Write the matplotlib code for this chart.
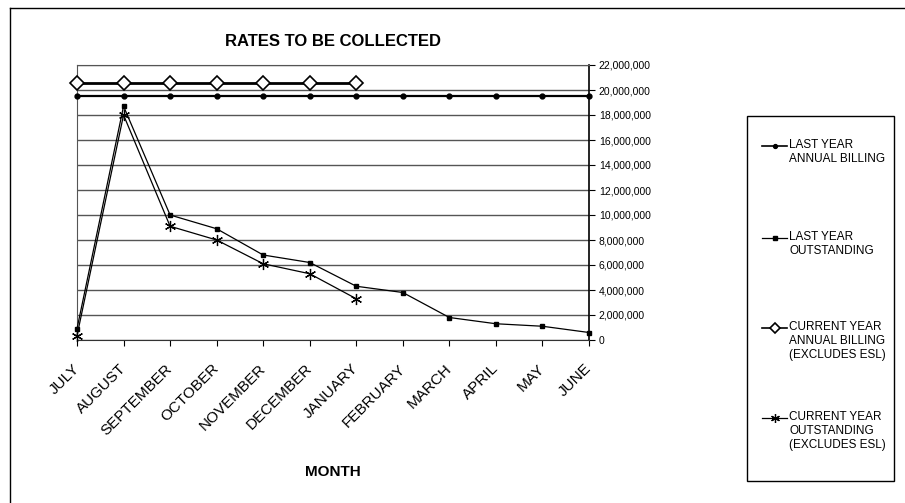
import numpy as np
import matplotlib.pyplot as plt
from matplotlib.lines import Line2D
from matplotlib.patches import Rectangle
from matplotlib.ticker import FuncFormatter

plt.rcParams['font.family'] = ['Liberation Sans', 'DejaVu Sans']

months = ['JULY', 'AUGUST', 'SEPTEMBER', 'OCTOBER', 'NOVEMBER', 'DECEMBER',
          'JANUARY', 'FEBRUARY', 'MARCH', 'APRIL', 'MAY', 'JUNE']

# values (dollars)
last_year_billing = [19.55e6] * 12
last_year_outstanding = [0.9e6, 18.7e6, 10.0e6, 8.9e6, 6.8e6, 6.2e6,
                         4.3e6, 3.8e6, 1.8e6, 1.3e6, 1.1e6, 0.6e6]
current_year_billing = [20.6e6] * 7
current_year_outstanding = [0.35e6, 18.0e6, 9.1e6, 8.0e6, 6.1e6, 5.3e6, 3.3e6]

legend_labels = ['LAST YEAR\nANNUAL BILLING',
                 'LAST YEAR\nOUTSTANDING',
                 'CURRENT YEAR\nANNUAL BILLING\n(EXCLUDES ESL)',
                 'CURRENT YEAR\nOUTSTANDING\n(EXCLUDES ESL)']

W, H = 905, 503
fig = plt.figure(figsize=(W / 100, H / 100), dpi=100)

# plot area in pixels
left, right, top, bottom = 77, 589, 65, 340
ax = fig.add_axes([left / W, 1 - bottom / H, (right - left) / W, (bottom - top) / H])

x = np.arange(len(months))

styles = [dict(color='black', lw=1.6, marker='o', ms=3.5, zorder=3),
          dict(color='black', lw=0.9, marker='s', ms=3.5, zorder=4),
          dict(color='black', lw=2.0, marker='D', ms=7, mfc='white', mec='black',
               mew=1.2, zorder=5),
          dict(color='black', lw=0.9, marker=(6, 2, 0), ms=8, mew=0.9, zorder=4)]

series = [last_year_billing, last_year_outstanding,
          current_year_billing, current_year_outstanding]
for vals, st in zip(series, styles):
    ax.plot(x[:len(vals)], vals, clip_on=False, **st)

ax.set_xlim(0, len(months) - 1)
ax.set_ylim(0, 22e6)
ax.set_yticks(np.arange(0, 22e6 + 1, 2e6))
ax.yaxis.set_major_formatter(FuncFormatter(lambda v, p: f'{v:,.0f}'))
ax.yaxis.tick_right()
ax.tick_params(axis='y', labelsize=7.5, length=4, direction='out', pad=3)

ax.set_xticks(x)
ax.set_xticklabels(months, rotation=45, ha='right', va='center',
                   rotation_mode='anchor', fontsize=11)
ax.tick_params(axis='x', length=4, direction='out', pad=15)

ax.grid(True, axis='y', color='#555555', lw=1.0)
ax.set_axisbelow(True)
for side in ['left', 'top']:
    ax.spines[side].set_color('#555555')
ax.spines['right'].set_color('black')
ax.spines['bottom'].set_color('#333333')
ax.spines['right'].set_linewidth(1.2)

fig.text(333 / W, 1 - 42 / H, 'RATES TO BE COLLECTED', ha='center', va='center',
         fontsize=12, fontweight='bold')
fig.text(333 / W, 1 - 472 / H, 'MONTH', ha='center', va='center',
         fontsize=11, fontweight='bold')

# legend drawn by hand so the key sits on the first text line, as in Excel
lx0, lx1, ly0, ly1 = 747, 894, 116, 481
fig.add_artist(Rectangle((lx0 / W, 1 - ly1 / H), (lx1 - lx0) / W, (ly1 - ly0) / H,
                         fill=False, edgecolor='black', lw=1.0,
                         transform=fig.transFigure))
entry_y = [146, 238, 328, 418]
for yy, st, lab in zip(entry_y, styles, legend_labels):
    st = dict(st)
    st.pop('zorder')
    st['ms'] = st['ms'] * 0.8
    st['lw'] = min(st['lw'], 1.2)
    fig.add_artist(Line2D([762 / W, 774.5 / W, 787 / W], [1 - yy / H] * 3,
                          markevery=[1], transform=fig.transFigure, **st))
    fig.text(789 / W, 1 - (yy - 7) / H, lab, ha='left', va='top',
             fontsize=8.5, linespacing=1.2)

# page border (only top and left survive in the scan)
fig.add_artist(Line2D([10 / W, 1], [1 - 8 / H, 1 - 8 / H], color='black', lw=1.0))
fig.add_artist(Line2D([10 / W, 10 / W], [0, 1 - 8 / H], color='black', lw=1.0))

fig.savefig('out.png', dpi=100)
